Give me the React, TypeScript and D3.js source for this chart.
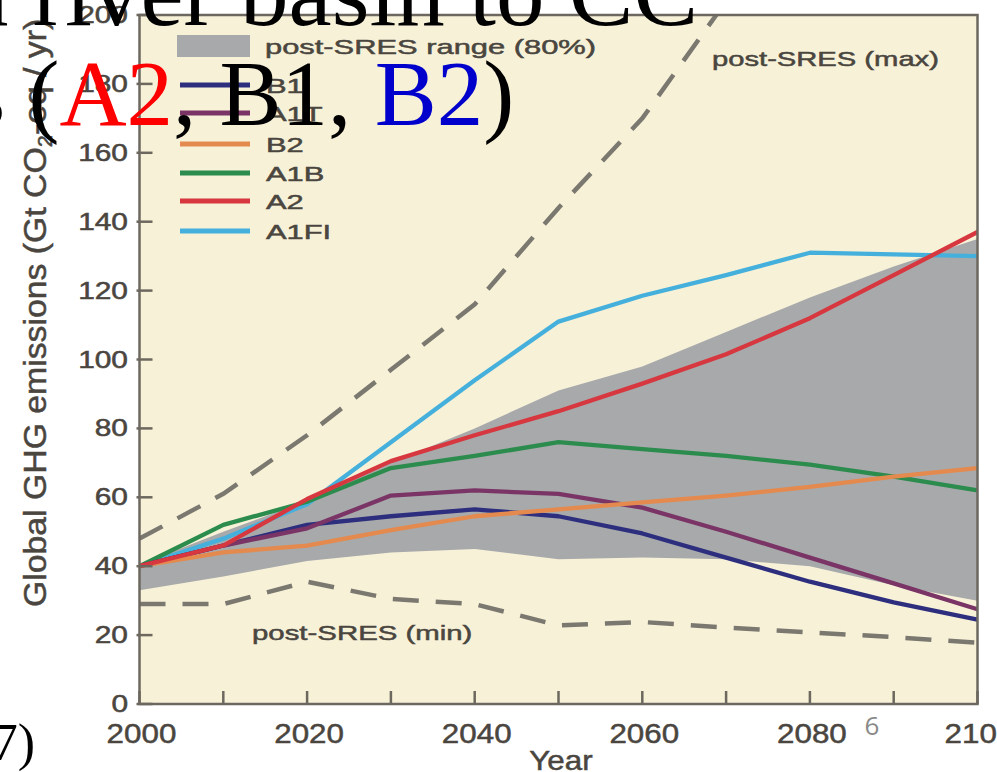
import React from 'react';
import * as d3 from 'd3';

const years = [2000, 2010, 2020, 2030, 2040, 2050, 2060, 2070, 2080, 2090, 2100];
const B1 = [40, 46, 52, 54.5, 56.5, 54.5, 49.5, 42.5, 35.5, 29.5, 24.5];
const A1T = [40, 46, 51, 60.5, 62, 61, 57, 50, 42.5, 35, 27.5];
const B2 = [40, 44, 46, 50.5, 54.5, 56.5, 58.5, 60.5, 63, 66, 68.5];
const A1B = [40, 52, 58.7, 68.5, 72, 76, 74, 72, 69.5, 66, 62];
const A2 = [40, 46, 59.5, 70.5, 78, 85, 93, 101.5, 112, 124.5, 137];
const A1FI = [40, 48, 58, 76, 94, 111, 118.5, 124.5, 131, 130.5, 130];
const rangeLow = [33, 37, 41.5, 44, 45, 42, 42.5, 42, 40, 34.5, 30];
const rangeHigh = [40.5, 50, 59, 70, 80, 91, 98, 108, 118, 127, 135];
const maxYears = [2000, 2010, 2020, 2030, 2040, 2050, 2060, 2070];
const postSresMax = [48, 61, 78, 97, 116, 144, 170, 204];
const postSresMin = [29, 29, 35.5, 30.5, 29, 22.8, 23.8, 22.2, 20.8, 19.4, 17.8];

const seriesNames = ['B1', 'A1T', 'B2', 'A1B', 'A2', 'A1FI'];
const seriesColors = ['#2d2f7e', '#7a3566', '#e48a4e', '#2b8c4e', '#d7373f', '#45b0dc'];
const seriesValues = [B1, A1T, B2, A1B, A2, A1FI];
const drawOrder = ['A1FI', 'A1B', 'B1', 'A1T', 'B2', 'A2'];

const yTicks = [0, 20, 40, 60, 80, 100, 120, 140, 160, 180, 200];
const xTicks = [2000, 2010, 2020, 2030, 2040, 2050, 2060, 2070, 2080, 2090, 2100];
const xLabels = [2000, 2020, 2040, 2060, 2080, 2100];

const W = 997;
const H = 772;
const x = d3.scaleLinear().domain([2000, 2100]).range([139.5, 977.5]);
const y = d3.scaleLinear().domain([0, 200]).range([704, 15]);

const TXT = '#4a463f';
const SANS = "'Liberation Sans', Arial, Helvetica, sans-serif";
const SERIF = "'Liberation Serif', 'Times New Roman', serif";

function Txt({ tx, ty, sx = 1, size, anchor = 'start', fill = TXT, children }: any) {
  return (
    <text
      transform={`translate(${tx},${ty}) scale(${sx},1)`}
      fontSize={size}
      textAnchor={anchor}
      fill={fill}
      stroke={fill}
      strokeWidth={0.5}
      fontFamily={SANS}
    >
      {children}
    </text>
  );
}

export default function App() {
  const line = d3
    .line<[number, number]>()
    .x((d) => x(d[0]))
    .y((d) => y(d[1]));
  const area = d3
    .area<number>()
    .x((_, i) => x(years[i]))
    .y0((_, i) => y(rangeLow[i]))
    .y1((_, i) => y(rangeHigh[i]));

  const pts = (vals: number[], yrs: number[] = years) =>
    vals.map((v, i) => [yrs[i], v] as [number, number]);

  const legendY = [85, 113, 144, 173, 201, 231];

  return (
    <svg
      width={W}
      height={H}
      style={{ position: 'absolute', left: 0, top: 0, background: '#ffffff' }}
    >
      <defs>
        <clipPath id="plotClip">
          <rect x={x(2000)} y={y(200)} width={x(2100) - x(2000)} height={y(0) - y(200)} />
        </clipPath>
      </defs>
      <rect x={0} y={0} width={W} height={H} fill="#ffffff" />
      <rect
        x={x(2000)}
        y={y(200)}
        width={x(2100) - x(2000)}
        height={y(0) - y(200)}
        fill="#f7f1d8"
      />
      <g clipPath="url(#plotClip)">
        <path d={area(rangeLow) || ''} fill="#a8a9ab" />
        <path
          d={line(pts(postSresMax, maxYears)) || ''}
          fill="none"
          stroke="#7b7870"
          strokeWidth={4.5}
          strokeDasharray="26 17"
        />
        <path
          d={line(pts(postSresMin)) || ''}
          fill="none"
          stroke="#7b7870"
          strokeWidth={4.5}
          strokeDasharray="26 17"
        />
        {drawOrder.map((name) => {
          const i = seriesNames.indexOf(name);
          return (
            <path
              key={name}
              d={line(pts(seriesValues[i])) || ''}
              fill="none"
              stroke={seriesColors[i]}
              strokeWidth={4.3}
              strokeLinejoin="round"
            />
          );
        })}
      </g>
      <rect
        x={x(2000)}
        y={y(200)}
        width={x(2100) - x(2000)}
        height={y(0) - y(200)}
        fill="none"
        stroke="#6c685f"
        strokeWidth={2.5}
      />
      {yTicks.map((t) => (
        <g key={'y' + t}>
          <line x1={x(2000) - 3} x2={x(2000) + 13} y1={y(t)} y2={y(t)} stroke="#6c685f" strokeWidth={2.5} />
          <Txt tx={128} ty={y(t) + 8} sx={1.3} size={23} anchor="end">
            {t}
          </Txt>
        </g>
      ))}
      {xTicks.map((t) => (
        <line key={'x' + t} x1={x(t)} x2={x(t)} y1={y(0)} y2={y(0) - 13} stroke="#6c685f" strokeWidth={2.5} />
      ))}
      {xLabels.map((t) => (
        <Txt key={'xl' + t} tx={x(t) + 2} ty={743} sx={1.12} size={28} anchor="middle">
          {t}
        </Txt>
      ))}
      <Txt tx={561} ty={770} sx={1.12} size={28} anchor="middle">
        Year
      </Txt>
      <text
        transform="translate(46,607) rotate(-90) scale(1.09,1)"
        fontSize={31}
        fill={TXT}
        stroke={TXT}
        strokeWidth={0.5}
        fontFamily={SANS}
      >
        Global GHG emissions (Gt CO
        <tspan fontSize={20} dy={6}>2</tspan>
        <tspan dy={-6}>-eq / yr)</tspan>
      </text>
      <rect x={177} y={35} width={73} height={22} fill="#a8a9ab" />
      <Txt tx={265} ty={54} sx={1.47} size={21}>
        post-SRES range (80%)
      </Txt>
      {seriesNames.map((n, i) => (
        <g key={'lg' + n}>
          <line x1={180} x2={250} y1={legendY[i]} y2={legendY[i]} stroke={seriesColors[i]} strokeWidth={5} />
          <Txt tx={266} ty={legendY[i] + 8} sx={1.47} size={21}>
            {n}
          </Txt>
        </g>
      ))}
      <Txt tx={712} ty={66} sx={1.39} size={21}>
        post-SRES (max)
      </Txt>
      <Txt tx={252} ty={640} sx={1.4} size={21}>
        post-SRES (min)
      </Txt>
      <text x={872} y={735} fontSize={26} fill="#8a8a8a" textAnchor="middle" fontFamily="'Open Sans', sans-serif">
        6
      </text>
      <text x={35} y={760} fontSize={52} fill="#000" textAnchor="end" fontFamily={SERIF}>
        7)
      </text>
      <text x={-40} y={25} fontSize={97} fill="#000" fontFamily={SERIF}>
        n river basin to CC
      </text>
      <text x={-31} y={125} fontSize={93} fill="#000" fontFamily={SERIF}>
        s (<tspan fill="#ff0000">A2</tspan>, B1, <tspan fill="#0000cc">B2</tspan>)
      </text>
    </svg>
  );
}
